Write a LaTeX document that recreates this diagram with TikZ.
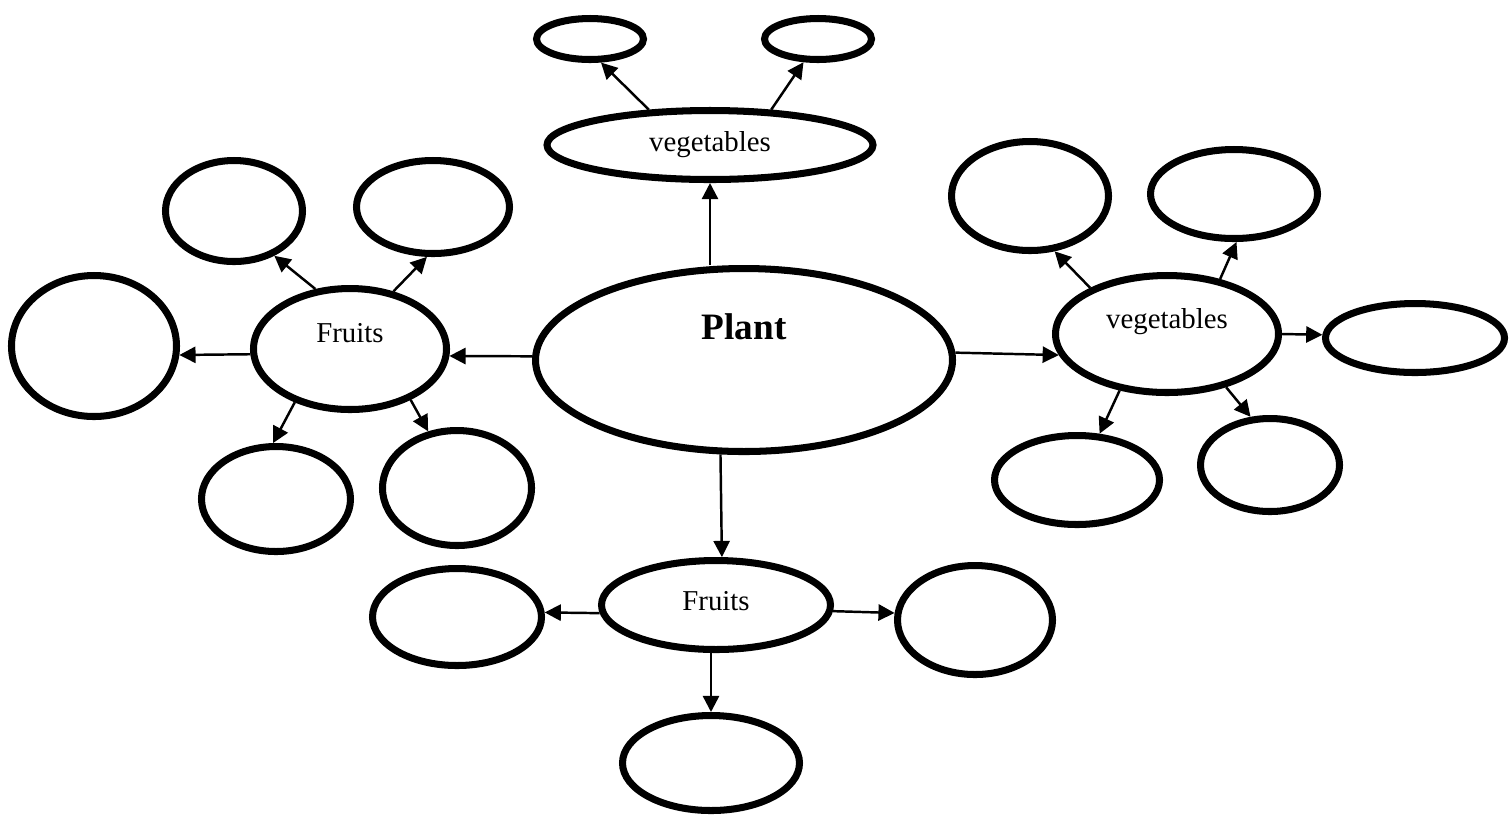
\documentclass[tikz,border=0pt]{standalone}
\usepackage{fontspec}
\setmainfont{Liberation Serif}
\usetikzlibrary{shapes.geometric, arrows.meta}
\tikzset{
  bubble/.style={ellipse, draw=black, line width=2pt, inner sep=0pt},
  link/.style={draw=black, line width=.7pt, -{Triangle[length=4.6pt, width=4.6pt]}},
}

\begin{document}
\begin{tikzpicture}[font=\fontsize{8.2}{10}\selectfont]
\useasboundingbox (0,0) rectangle (15.1,-8.16);

% centre
\node[bubble, minimum width=4.17cm, minimum height=1.83cm,
  label={[yshift=.33cm, font=\fontsize{10.6}{12}\selectfont\bfseries]center:Plant}]
  (plant) at (7.44,-3.60) {};

% top branch
\node[bubble, minimum width=3.26cm, minimum height=.69cm,
  label={center:vegetables}] (vegtop) at (7.10,-1.45) {};
\node[bubble, minimum width=1.07cm, minimum height=.41cm] (toplft) at (5.90,-0.39) {};
\node[bubble, minimum width=1.07cm, minimum height=.41cm] (toprgt) at (8.18,-0.39) {};

% left branch
\node[bubble, minimum width=1.93cm, minimum height=1.21cm,
  label={[yshift=.16cm]center:Fruits}] (frtlft) at (3.50,-3.49) {};
\node[bubble, minimum width=1.65cm, minimum height=1.41cm] (lftfar) at (0.94,-3.46) {};
\node[bubble, minimum width=1.37cm, minimum height=1.01cm] (lftup1) at (2.34,-2.11) {};
\node[bubble, minimum width=1.53cm, minimum height=.93cm] (lftup2) at (4.33,-2.07) {};
\node[bubble, minimum width=1.49cm, minimum height=1.05cm] (lftlo1) at (2.76,-4.99) {};
\node[bubble, minimum width=1.49cm, minimum height=1.15cm] (lftlo2) at (4.57,-4.88) {};

% right branch
\node[bubble, minimum width=2.23cm, minimum height=1.17cm,
  label={[yshift=.12cm]center:vegetables}] (vegrgt) at (11.67,-3.34) {};
\node[bubble, minimum width=1.79cm, minimum height=.69cm] (rgtfar) at (14.15,-3.38) {};
\node[bubble, minimum width=1.57cm, minimum height=1.09cm] (rgtup1) at (10.30,-1.96) {};
\node[bubble, minimum width=1.67cm, minimum height=.89cm] (rgtup2) at (12.34,-1.94) {};
\node[bubble, minimum width=1.65cm, minimum height=.89cm] (rgtlo1) at (10.77,-4.80) {};
\node[bubble, minimum width=1.39cm, minimum height=.93cm] (rgtlo2) at (12.70,-4.65) {};

% bottom branch
\node[bubble, minimum width=2.29cm, minimum height=.89cm,
  label={[yshift=.04cm]center:Fruits}] (frtbot) at (7.16,-6.05) {};
\node[bubble, minimum width=1.69cm, minimum height=.97cm] (botlft) at (4.57,-6.17) {};
\node[bubble, minimum width=1.55cm, minimum height=1.09cm] (botrgt) at (9.75,-6.20) {};
\node[bubble, minimum width=1.77cm, minimum height=.95cm] (botbot) at (7.11,-7.63) {};

% arrows out of the centre
\draw[link] (plant.north -| vegtop.south) -- (vegtop.south);
\draw[link] (plant.179) -- (frtlft.-4);
\draw[link] (plant.2) -- (vegrgt.191);
\draw[link] (plant.256) -- (frtbot.83);

% top
\draw[link] (vegtop.150) -- (toplft.295);
\draw[link] (vegtop.30) -- (toprgt.238);

% left
\draw[link] (frtlft.183) -- (lftfar.-6);
\draw[link] (frtlft.120) -- (lftup1.-48);
\draw[link] (frtlft.53) -- (lftup2.263);
\draw[link] (frtlft.224) -- (lftlo1.93);
\draw[link] (frtlft.320) -- (lftlo2.117);

% right
\draw[link] (vegrgt.east) -- (rgtfar.178);
\draw[link] (vegrgt.149) -- (rgtup1.294);
\draw[link] (vegrgt.46) -- (rgtup2.273);
\draw[link] (vegrgt.230) -- (rgtlo1.64);
\draw[link] (vegrgt.318) -- (rgtlo2.112);

% bottom
\draw[link] (frtbot.184) -- (botlft.3);
\draw[link] (frtbot.357) -- (botrgt.175);
\draw[link] (frtbot.south -| botbot.north) -- (botbot.north);
\end{tikzpicture}
\end{document}
